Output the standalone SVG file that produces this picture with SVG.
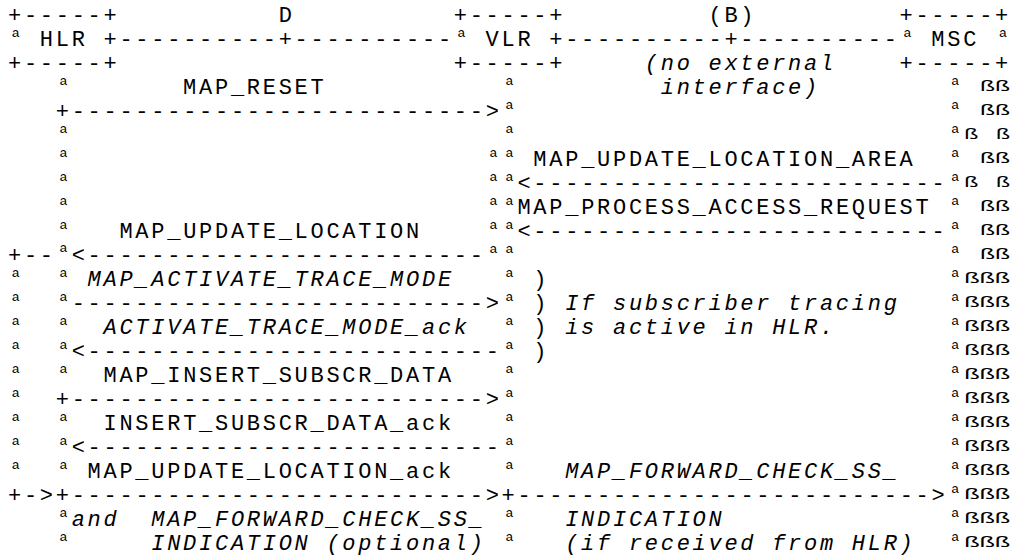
<svg xmlns="http://www.w3.org/2000/svg" width="1019" height="555" viewBox="0 0 1019 555">
<style>
.m{font-family:"Liberation Mono","Courier New",monospace;font-size:22px;letter-spacing:2.72px;fill:#000}
.i{font-family:"Liberation Mono","Courier New",monospace;font-size:22px;letter-spacing:2.72px;font-style:italic;fill:#000}
.a{font-family:"Liberation Mono",monospace;font-size:17px;text-anchor:middle;fill:#000}
.b{font-family:"Liberation Mono",monospace;font-size:14px;fill:#000}
</style>
<rect width="1019" height="555" fill="#fff"/>
<g id="hlr">
<text class="m" x="8" y="22">+-----+</text>
<text class="a" x="15.96" y="43">ª</text>
<text class="m" x="39.84" y="46">HLR</text>
<text class="m" x="8" y="70">+-----+</text>
</g>
<g id="vlr">
<text class="m" x="453.76" y="22">+-----+</text>
<text class="a" x="461.72" y="43">ª</text>
<text class="m" x="485.6" y="46">VLR</text>
<text class="m" x="453.76" y="70">+-----+</text>
</g>
<g id="msc">
<text class="m" x="899.52" y="22">+-----+</text>
<text class="a" x="907.48" y="43">ª</text>
<text class="m" x="931.36" y="46">MSC</text>
<text class="a" x="1003" y="43">ª</text>
<text class="m" x="899.52" y="70">+-----+</text>
</g>
<g id="interfaces">
<text class="m" x="278.64" y="22">D</text>
<text class="m" x="708.48" y="22">(B)</text>
<text class="i" x="644.8" y="70">(no external</text>
<text class="i" x="660.72" y="94">interface)</text>
</g>
<g id="connectors">
<text class="m" x="103.52" y="46">+----------+----------</text>
<text class="m" x="549.28" y="46">+----------+----------</text>
<!-- HLR lifeline col 3 -->
<text class="a" x="63.72" y="91">ª</text>
<text class="a" x="63.72" y="139">ª</text>
<text class="a" x="63.72" y="163">ª</text>
<text class="a" x="63.72" y="187">ª</text>
<text class="a" x="63.72" y="211">ª</text>
<text class="a" x="63.72" y="235">ª</text>
<text class="a" x="63.72" y="258">ª</text>
<text class="a" x="63.72" y="283">ª</text>
<text class="a" x="63.72" y="307">ª</text>
<text class="a" x="63.72" y="331">ª</text>
<text class="a" x="63.72" y="355">ª</text>
<text class="a" x="63.72" y="379">ª</text>
<text class="a" x="63.72" y="427">ª</text>
<text class="a" x="63.72" y="451">ª</text>
<text class="a" x="63.72" y="475">ª</text>
<text class="a" x="63.72" y="523">ª</text>
<text class="a" x="63.72" y="547">ª</text>
<!-- HLR outer col 0 -->
<text class="a" x="15.96" y="283">ª</text>
<text class="a" x="15.96" y="307">ª</text>
<text class="a" x="15.96" y="331">ª</text>
<text class="a" x="15.96" y="355">ª</text>
<text class="a" x="15.96" y="379">ª</text>
<text class="a" x="15.96" y="403">ª</text>
<text class="a" x="15.96" y="427">ª</text>
<text class="a" x="15.96" y="451">ª</text>
<text class="a" x="15.96" y="475">ª</text>
<!-- VLR lifeline col 31 -->
<text class="a" x="509.48" y="91">ª</text>
<text class="a" x="509.48" y="115">ª</text>
<text class="a" x="509.48" y="139">ª</text>
<text class="a" x="509.48" y="163">ª</text>
<text class="a" x="509.48" y="187">ª</text>
<text class="a" x="509.48" y="211">ª</text>
<text class="a" x="509.48" y="235">ª</text>
<text class="a" x="509.48" y="259">ª</text>
<text class="a" x="509.48" y="283">ª</text>
<text class="a" x="509.48" y="307">ª</text>
<text class="a" x="509.48" y="331">ª</text>
<text class="a" x="509.48" y="355">ª</text>
<text class="a" x="509.48" y="379">ª</text>
<text class="a" x="509.48" y="403">ª</text>
<text class="a" x="509.48" y="427">ª</text>
<text class="a" x="509.48" y="451">ª</text>
<text class="a" x="509.48" y="475">ª</text>
<text class="a" x="509.48" y="523">ª</text>
<text class="a" x="509.48" y="547">ª</text>
<!-- VLR col 30 -->
<text class="a" x="493.56" y="163">ª</text>
<text class="a" x="493.56" y="187">ª</text>
<text class="a" x="493.56" y="211">ª</text>
<text class="a" x="493.56" y="235">ª</text>
<text class="a" x="493.56" y="259">ª</text>
<!-- MSC lifeline col 59 -->
<text class="a" x="955.24" y="91">ª</text>
<text class="a" x="955.24" y="115">ª</text>
<text class="a" x="955.24" y="139">ª</text>
<text class="a" x="955.24" y="163">ª</text>
<text class="a" x="955.24" y="187">ª</text>
<text class="a" x="955.24" y="211">ª</text>
<text class="a" x="955.24" y="235">ª</text>
<text class="a" x="955.24" y="259">ª</text>
<text class="a" x="955.24" y="283">ª</text>
<text class="a" x="955.24" y="307">ª</text>
<text class="a" x="955.24" y="331">ª</text>
<text class="a" x="955.24" y="355">ª</text>
<text class="a" x="955.24" y="379">ª</text>
<text class="a" x="955.24" y="403">ª</text>
<text class="a" x="955.24" y="427">ª</text>
<text class="a" x="955.24" y="451">ª</text>
<text class="a" x="955.24" y="475">ª</text>
<text class="a" x="955.24" y="499">ª</text>
<text class="a" x="955.24" y="523">ª</text>
<text class="a" x="955.24" y="547">ª</text>
<!-- MSC ß marks -->
<text class="b" x="980" y="91" textLength="29.8" lengthAdjust="spacingAndGlyphs">ßß</text>
<text class="b" x="980" y="115" textLength="29.8" lengthAdjust="spacingAndGlyphs">ßß</text>
<text class="b" x="964.2" y="139" textLength="13.9" lengthAdjust="spacingAndGlyphs">ß</text>
<text class="b" x="996" y="139" textLength="13.9" lengthAdjust="spacingAndGlyphs">ß</text>
<text class="b" x="980" y="163" textLength="29.8" lengthAdjust="spacingAndGlyphs">ßß</text>
<text class="b" x="964.2" y="187" textLength="13.9" lengthAdjust="spacingAndGlyphs">ß</text>
<text class="b" x="996" y="187" textLength="13.9" lengthAdjust="spacingAndGlyphs">ß</text>
<text class="b" x="980" y="211" textLength="29.8" lengthAdjust="spacingAndGlyphs">ßß</text>
<text class="b" x="980" y="235" textLength="29.8" lengthAdjust="spacingAndGlyphs">ßß</text>
<text class="b" x="980" y="259" textLength="29.8" lengthAdjust="spacingAndGlyphs">ßß</text>
<text class="b" x="964.2" y="283" textLength="45.8" lengthAdjust="spacingAndGlyphs">ßßß</text>
<text class="b" x="964.2" y="307" textLength="45.8" lengthAdjust="spacingAndGlyphs">ßßß</text>
<text class="b" x="964.2" y="331" textLength="45.8" lengthAdjust="spacingAndGlyphs">ßßß</text>
<text class="b" x="964.2" y="355" textLength="45.8" lengthAdjust="spacingAndGlyphs">ßßß</text>
<text class="b" x="964.2" y="379" textLength="45.8" lengthAdjust="spacingAndGlyphs">ßßß</text>
<text class="b" x="964.2" y="403" textLength="45.8" lengthAdjust="spacingAndGlyphs">ßßß</text>
<text class="b" x="964.2" y="427" textLength="45.8" lengthAdjust="spacingAndGlyphs">ßßß</text>
<text class="b" x="964.2" y="451" textLength="45.8" lengthAdjust="spacingAndGlyphs">ßßß</text>
<text class="b" x="964.2" y="475" textLength="45.8" lengthAdjust="spacingAndGlyphs">ßßß</text>
<text class="b" x="964.2" y="499" textLength="45.8" lengthAdjust="spacingAndGlyphs">ßßß</text>
<text class="b" x="964.2" y="523" textLength="45.8" lengthAdjust="spacingAndGlyphs">ßßß</text>
<text class="b" x="964.2" y="547" textLength="45.8" lengthAdjust="spacingAndGlyphs">ßßß</text>
<!-- arrows -->
<text class="m" x="55.76" y="118">+--------------------------&gt;</text>
<text class="m" x="517.44" y="190">&lt;--------------------------</text>
<text class="m" x="517.44" y="238">&lt;--------------------------</text>
<text class="m" x="8" y="262">+--</text>
<text class="m" x="71.68" y="262">&lt;-------------------------</text>
<text class="m" x="71.68" y="310">--------------------------&gt;</text>
<text class="m" x="71.68" y="358">&lt;--------------------------</text>
<text class="m" x="55.76" y="406">+--------------------------&gt;</text>
<text class="m" x="71.68" y="454">&lt;--------------------------</text>
<text class="m" x="8" y="502">+-&gt;+--------------------------&gt;+--------------------------&gt;</text>
<!-- brackets -->
<text class="m" x="533.36" y="286">)</text>
<text class="m" x="533.36" y="310">)</text>
<text class="m" x="533.36" y="334">)</text>
<text class="m" x="533.36" y="358">)</text>
</g>
<g id="labels">
<text class="m" x="183.12" y="94">MAP_RESET</text>
<text class="m" x="533.36" y="166">MAP_UPDATE_LOCATION_AREA</text>
<text class="m" x="517.44" y="214">MAP_PROCESS_ACCESS_REQUEST</text>
<text class="m" x="119.44" y="238">MAP_UPDATE_LOCATION</text>
<text class="i" x="87.6" y="286">MAP_ACTIVATE_TRACE_MODE</text>
<text class="i" x="565.2" y="310">If subscriber tracing</text>
<text class="i" x="103.52" y="334">ACTIVATE_TRACE_MODE_ack</text>
<text class="i" x="565.2" y="334">is active in HLR.</text>
<text class="m" x="103.52" y="382">MAP_INSERT_SUBSCR_DATA</text>
<text class="m" x="103.52" y="430">INSERT_SUBSCR_DATA_ack</text>
<text class="m" x="87.6" y="478">MAP_UPDATE_LOCATION_ack</text>
<text class="i" x="565.2" y="478">MAP_FORWARD_CHECK_SS_</text>
<text class="i" x="71.68" y="526">and</text>
<text class="i" x="151.28" y="526">MAP_FORWARD_CHECK_SS_</text>
<text class="i" x="565.2" y="526">INDICATION</text>
<text class="i" x="151.28" y="550">INDICATION (optional)</text>
<text class="i" x="565.2" y="550">(if received from HLR)</text>
</g>
</svg>
